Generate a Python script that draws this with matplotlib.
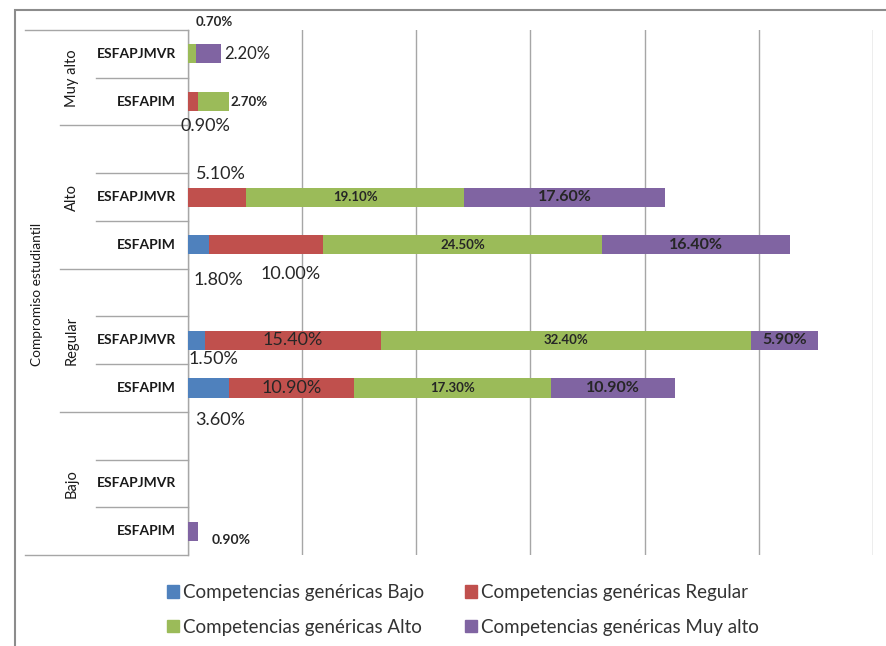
import matplotlib.pyplot as plt
import matplotlib.transforms as mtransforms
from matplotlib.patches import Rectangle, Patch
import numpy as np

plt.rcParams['font.family'] = ['Lato', 'DejaVu Sans']

# one slot per row of the chart, top to bottom; '' rows are empty categories
row_labels = ['ESFAPJMVR', 'ESFAPIM',
              '', 'ESFAPJMVR', 'ESFAPIM',
              '', 'ESFAPJMVR', 'ESFAPIM',
              '', 'ESFAPJMVR', 'ESFAPIM']
groups = ['Muy alto', 'Alto', 'Regular', 'Bajo']
group_rows = [(0, 2), (2, 5), (5, 8), (8, 11)]

series_names = ['Competencias genéricas Bajo', 'Competencias genéricas Regular',
                'Competencias genéricas Alto', 'Competencias genéricas Muy alto']
bajo     = [0, 0,   0, 0,    1.8,  0, 1.5,  3.6,  0, 0, 0]
regular  = [0, 0.9, 0, 5.1,  10.0, 0, 15.4, 10.9, 0, 0, 0]
alto     = [0.7, 2.7, 0, 19.1, 24.5, 0, 32.4, 17.3, 0, 0, 0]
muy_alto = [2.2, 0, 0, 17.6, 16.4, 0, 5.9,  10.9, 0, 0, 0.9]
colors = ['#4F81BD', '#C0504D', '#9BBB59', '#8064A2']

# where each value label goes: None = centred in its segment,
# otherwise (x, y, ha) in data units; plus font size and weight
label_style = {
    (0, 2): ((2.3, -0.66, 'center'), 9.5, 'bold'),
    (0, 3): ((3.2, 0.0, 'left'), 12, 'normal'),
    (1, 1): ((1.5, 1.51, 'center'), 13, 'normal'),
    (1, 2): ((3.7, 1.0, 'left'), 9.5, 'bold'),
    (3, 1): ((2.9, 2.52, 'center'), 13, 'normal'),
    (3, 2): (None, 9.5, 'bold'),
    (3, 3): (None, 11.5, 'bold'),
    (4, 0): ((2.7, 4.74, 'center'), 13, 'normal'),
    (4, 1): ((9.0, 4.61, 'center'), 13, 'normal'),
    (4, 2): (None, 9.5, 'bold'),
    (4, 3): (None, 11.5, 'bold'),
    (6, 0): ((2.2, 6.39, 'center'), 13, 'normal'),
    (6, 1): (None, 13, 'normal'),
    (6, 2): (None, 9.5, 'bold'),
    (6, 3): (None, 11.5, 'bold'),
    (7, 0): ((2.8, 7.67, 'center'), 13, 'normal'),
    (7, 1): (None, 13, 'normal'),
    (7, 2): (None, 9.5, 'bold'),
    (7, 3): (None, 11.5, 'bold'),
    (10, 3): ((3.8, 10.18, 'center'), 10, 'bold'),
}

W, H = 887, 646
fig = plt.figure(figsize=(W / 100, H / 100), dpi=100)
ax = fig.add_axes([188 / W, 1 - 555 / H, (873 - 188) / W, (555 - 30) / H])

y = np.arange(len(row_labels))
data = np.array([bajo, regular, alto, muy_alto])
left = np.zeros(len(row_labels))
for i, vals in enumerate(data):
    ax.barh(y, vals, left=left, height=0.4, color=colors[i], linewidth=0,
            label=series_names[i], zorder=3)
    for r, v in enumerate(vals):
        if v == 0:
            continue
        pos, size, weight = label_style[(r, i)]
        if pos is None:
            tx, ty, ha = left[r] + v / 2, r, 'center'
        else:
            tx, ty, ha = pos
        ax.text(tx, ty, f'{v:.2f}%', ha=ha, va='center', fontsize=size,
                fontweight=weight, color='#262626', zorder=4, clip_on=False)
    left = left + np.array(vals)

ax.set_xlim(0, 60)
ax.set_ylim(len(row_labels) - 0.5, -0.5)
ax.set_xticks(np.arange(0, 61, 10))
ax.set_yticks([])
ax.xaxis.set_ticks_position('none')
ax.set_xticklabels([])
ax.grid(axis='x', color='#A6A6A6', linewidth=1.0, zorder=0)
for s in ['top', 'right', 'bottom']:
    ax.spines[s].set_visible(False)
ax.spines['left'].set_color('#A6A6A6')
ax.spines['left'].set_linewidth(1.0)

# category axis: row names, group names and separators
trans = mtransforms.blended_transform_factory(fig.transFigure, ax.transData)
line_kw = dict(color='#A6A6A6', linewidth=1.0, transform=trans, clip_on=False)
x_axis = 188 / W
for r, name in enumerate(row_labels):
    if name:
        fig.text(176 / W, r, name, transform=trans, ha='right', va='center',
                 fontsize=10, fontweight='bold', color='#1a1a1a')
for g, (start, stop) in zip(groups, group_rows):
    fig.text(72 / W, (start + stop - 1) / 2, g, transform=trans, rotation=90,
             ha='center', va='center', fontsize=10.5, color='#1a1a1a')
    for r in range(start + 1, stop):
        ax.plot([96 / W, x_axis], [r - 0.5, r - 0.5], **line_kw)
    if start > 0:
        ax.plot([60 / W, x_axis], [start - 0.5, start - 0.5], **line_kw)
ax.plot([25 / W, x_axis], [-0.5, -0.5], **line_kw)
ax.plot([25 / W, x_axis], [len(row_labels) - 0.5] * 2, **line_kw)
fig.text(37 / W, 1 - 294 / H, 'Compromiso estudiantil', rotation=90,
         ha='center', va='center', fontsize=9.8, color='#1a1a1a')

# legend: Excel fills rows, matplotlib fills columns
handles = [Patch(color=c) for c in colors]
order = [0, 2, 1, 3]
fig.legend([handles[k] for k in order], [series_names[k] for k in order],
           ncol=2, loc='upper left', bbox_to_anchor=(150 / W, 1 - 567 / H),
           frameon=False, handlelength=0.65, handleheight=0.65,
           handletextpad=0.2, columnspacing=2.2, labelspacing=0.95,
           fontsize=13.5, labelcolor='#333333')

# chart frame
fig.patches.append(Rectangle((15 / W, -0.05), 1.0, 1 - 10 / H + 0.05,
                             transform=fig.transFigure, fill=False,
                             edgecolor='#8C8C8C', linewidth=1.5))

fig.savefig('out.png', dpi=100)
